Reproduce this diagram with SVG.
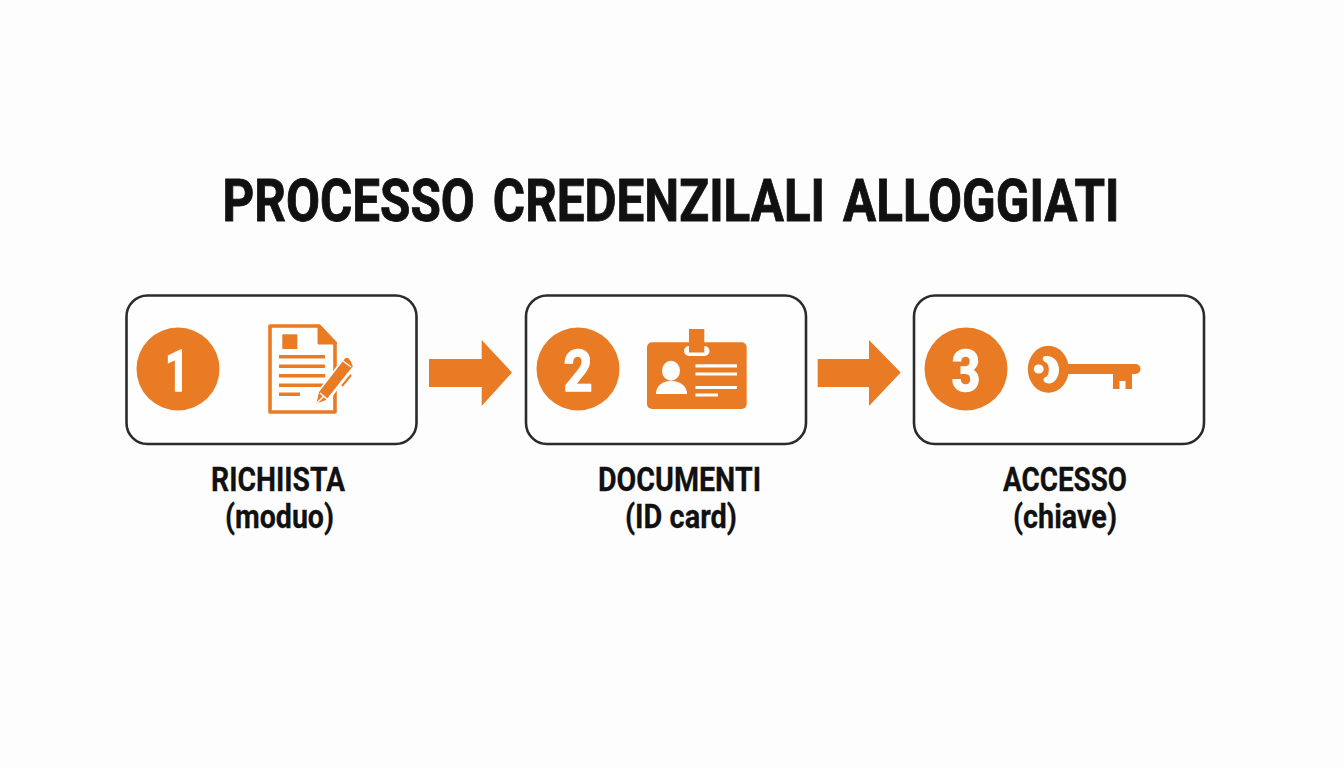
<svg xmlns="http://www.w3.org/2000/svg" width="1344" height="768" viewBox="0 0 1344 768">
<style>
.box{fill:#fefefe;stroke:#2b2b2b;stroke-width:2.6}
.or{fill:#e87b24}
.wh{fill:#fefefe}
.ln{stroke:#e87b24;stroke-width:3.4;fill:none}
.wl{stroke:#fefefe;stroke-width:3.2;fill:none}
text{font-family:"Roboto","Liberation Sans",sans-serif;font-weight:700;fill:#111;text-anchor:middle}
.ttl{font-size:60px;stroke:#111;stroke-width:.9;word-spacing:7px}
.num{fill:#fefefe;stroke:#fefefe;stroke-width:1.6;font-size:58px}
.lab{font-size:34px;stroke:#111;stroke-width:.3}
</style>
<rect width="1344" height="768" fill="#fdfdfd"/>
<text id="title" class="ttl" x="671" y="221" textLength="897" lengthAdjust="spacingAndGlyphs">PROCESSO CREDENZILALI ALLOGGIATI</text>
<g id="connectors">
<path class="or" d="M429 359H481.7V340L512 372.5 481.7 406V387H429Z"/>
<path class="or" d="M817.7 359H869V340L900.7 372.5 869 406V387H817.7Z"/>
</g>
<g id="node1">
<rect class="box" x="126.5" y="295.5" width="290" height="148.5" rx="21"/>
<circle class="or" cx="178" cy="369" r="41.5"/>
<text class="num" x="177" y="391" textLength="24" lengthAdjust="spacingAndGlyphs">1</text>
<path d="M319 326H270V412H335V343Z" fill="none" stroke="#e87b24" stroke-width="3.6" stroke-linejoin="round"/>
<path class="or" d="M319 326L335.500 343H319Z" stroke="#e87b24" stroke-width="3" stroke-linejoin="round"/>
<rect class="or" x="282.300" y="334.300" width="15" height="14.700"/>
<path class="ln" d="M279 356.800H325M279 366.300H325M279 375.800H325M279 385.300H325M279 394.300H300"/>
<path d="M318 403L344 369" stroke="#fefefe" stroke-width="15" fill="none"/>
<path class="or" d="M316.500 403.500L319 392L345 358.500C347 356 352 361 351.500 364L353 366L341 381L326 400Z"/>
<path d="M317 403L324 396" stroke="#fefefe" stroke-width="1.500"/>
<path d="M320 393L328 400" stroke="#fefefe" stroke-width="1.600"/>
<path d="M343 361L351 367" stroke="#fefefe" stroke-width="1.500"/>
<path d="M342 386L351 375" stroke="#e87b24" stroke-width="2"/>
<text class="lab" x="278" y="491" textLength="134" lengthAdjust="spacingAndGlyphs">RICHIISTA</text>
<text class="lab" x="279.500" y="528" textLength="109" lengthAdjust="spacingAndGlyphs">(moduo)</text>
</g>
<g id="node2">
<rect class="box" x="526" y="295.5" width="280" height="148.500" rx="21"/>
<circle class="or" cx="578" cy="369" r="41.5"/>
<text class="num" x="578" y="391" textLength="29" lengthAdjust="spacingAndGlyphs">2</text>
<rect class="or" x="647" y="342.300" width="99.700" height="66.700" rx="5"/>
<rect class="wh" x="684" y="346" width="25.500" height="10" rx="5"/>
<rect class="or" x="689" y="329" width="15.300" height="23.500"/>
<ellipse class="wh" cx="671" cy="370.700" rx="9" ry="10"/>
<path class="wh" d="M656 394C656 385 663 381 671 381S687 385 687 394Z"/>
<path class="wl" d="M695.500 365.800H737M695.500 374H737M695.500 387.500H737M695.500 395H718"/>
<text class="lab" x="679.500" y="491" textLength="163" lengthAdjust="spacingAndGlyphs">DOCUMENTI</text>
<text class="lab" x="681" y="528" textLength="112" lengthAdjust="spacingAndGlyphs">(ID card)</text>
</g>
<g id="node3">
<rect class="box" x="914" y="295.5" width="290" height="148.500" rx="21"/>
<circle class="or" cx="966" cy="369" r="41.5"/>
<text class="num" x="966" y="391" textLength="29" lengthAdjust="spacingAndGlyphs">3</text>
<path class="or" d="M1060 364H1135.500A5 5 0 0 1 1135.500 374H1132V389H1125.500V381H1119.500V389H1113V374H1060Z"/>
<ellipse class="or" cx="1048.300" cy="369.300" rx="20.500" ry="23.500"/>
<path class="wh" d="M1045 356C1053 355 1059 361 1059 369.500C1059 378 1054 384 1048 383.500C1043 383 1042 378 1046 377C1050 375 1050 363 1045 362C1042 360 1042 357 1045 356Z"/>
<ellipse class="wh" cx="1038.700" cy="369" rx="5" ry="4.500"/>
<text class="lab" x="1065" y="491" textLength="124" lengthAdjust="spacingAndGlyphs">ACCESSO</text>
<text class="lab" x="1065" y="528" textLength="104" lengthAdjust="spacingAndGlyphs">(chiave)</text>
</g>
</svg>
